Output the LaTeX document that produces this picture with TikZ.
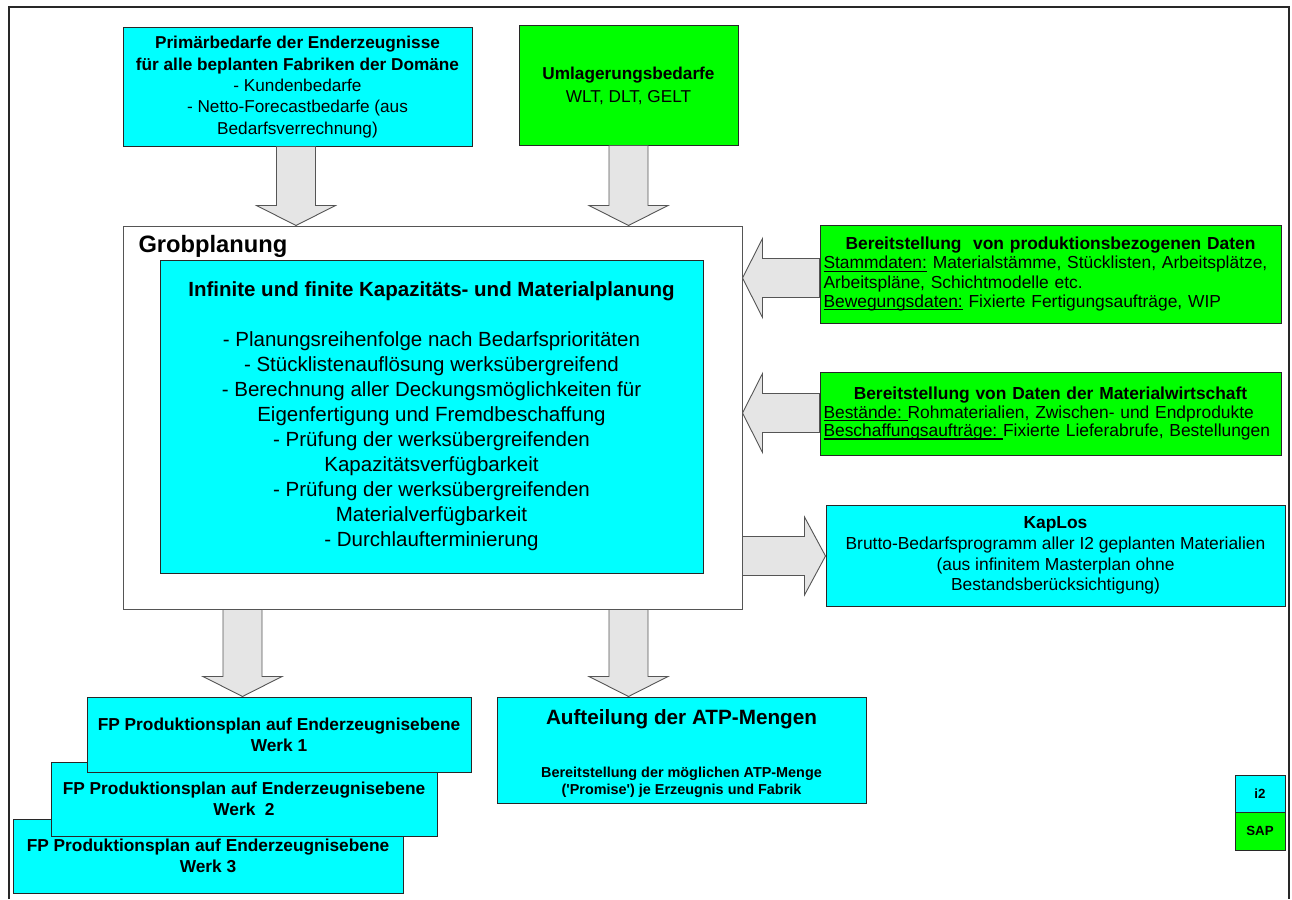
\documentclass[tikz,border=0pt]{standalone}
\usepackage{fontspec}
\setmainfont{Liberation Sans}
\usetikzlibrary{calc}

\definecolor{boxcyan}{RGB}{0,255,255}
\definecolor{boxgreen}{RGB}{0,255,0}
\definecolor{arrowgrey}{RGB}{229,229,229}
\definecolor{edgedark}{RGB}{40,40,40}
\definecolor{edgegrey}{RGB}{85,85,85}

\newcommand\fs[2]{\fontsize{#1}{#2}\selectfont}
% underline at a fixed depth below the baseline
\newcommand\undl[1]{\leavevmode\setbox0\hbox{#1}\rlap{\vrule height -1.9pt depth 3.0pt width \wd0}\box0\relax}

\tikzset{
  plainbox/.style={rectangle, inner sep=0pt, draw=edgedark, line width=1pt, align=center},
  cyanbox/.style={plainbox, fill=boxcyan},
  greenbox/.style={plainbox, fill=boxgreen},
  blockarrow/.style={draw=edgegrey, fill=arrowgrey, line width=0.9pt, line join=miter},
}

% vertical block arrow: from source's south to target's north, centred at x
\newcommand\blockdown[3]{%
  \draw[blockarrow] let \p1=(#1.south), \p2=(#2.north) in
    (#3pt-19.5pt,\y1) -- (#3pt+19.5pt,\y1) -- (#3pt+19.5pt,\y2+20pt)
    -- (#3pt+39.5pt,\y2+20pt) -- (#3pt,\y2) -- (#3pt-39.5pt,\y2+20pt)
    -- (#3pt-19.5pt,\y2+20pt) -- cycle;}
% horizontal block arrow pointing left: from source's west to target's east
\newcommand\blockleft[3]{%
  \draw[blockarrow] let \p1=(#1.west), \p2=(#2.east) in
    (\x1,-#3pt+19.5pt) -- (\x2+20pt,-#3pt+19.5pt) -- (\x2+20pt,-#3pt+39.5pt)
    -- (\x2,-#3pt) -- (\x2+20pt,-#3pt-39.5pt) -- (\x2+20pt,-#3pt-19.5pt)
    -- (\x1,-#3pt-19.5pt) -- cycle;}
% horizontal block arrow pointing right: from source's east to target's west
\newcommand\blockright[3]{%
  \draw[blockarrow] let \p1=(#1.east), \p2=(#2.west) in
    (\x1,-#3pt+19.5pt) -- (\x2-21pt,-#3pt+19.5pt) -- (\x2-21pt,-#3pt+39pt)
    -- (\x2,-#3pt) -- (\x2-21pt,-#3pt-39pt) -- (\x2-21pt,-#3pt-19.5pt)
    -- (\x1,-#3pt-19.5pt) -- cycle;}

\begin{document}
\begin{tikzpicture}[x=1pt, y=-1pt]
\useasboundingbox (0,0) rectangle (1292,899);

% outer frame, open at the bottom
\draw[line width=2pt, edgedark] (9,899) -- (9,7) -- (1289,7) -- (1289,899);

% inputs on top
\node[cyanbox, minimum width=349pt, minimum height=118pt, font=\fs{17.2}{21.3}]
  (prim) at (297.5,87)
  {\bfseries Primärbedarfe der Enderzeugnisse\\
   \bfseries für alle beplanten Fabriken der Domäne\\
   - Kundenbedarfe\\
   - Netto-Forecastbedarfe (aus\\
   Bedarfsverrechnung)};

\node[greenbox, minimum width=219pt, minimum height=119pt, font=\fs{17.2}{23}]
  (uml) at (628.5,85.5)
  {\bfseries Umlagerungsbedarfe\\ WLT, DLT, GELT};

% central planning block
\node[plainbox, draw=edgegrey, fill=white, minimum width=619pt, minimum height=383pt]
  (grob) at (432.5,417.5) {};
\node[anchor=base west, font=\fs{23.7}{28}\bfseries] (grobtitle) at (135,252) {Grobplanung};
\node[cyanbox, minimum width=543pt, minimum height=313pt, font=\fs{20.5}{25}]
  (inner) at (431.5,416.5)
  {\bfseries Infinite und finite Kapazitäts- und Materialplanung\\[25pt]
   - Planungsreihenfolge nach Bedarfsprioritäten\\
   - Stücklistenauflösung werksübergreifend\\
   - Berechnung aller Deckungsmöglichkeiten für\\
   Eigenfertigung und Fremdbeschaffung\\
   - Prüfung der werksübergreifenden\\
   Kapazitätsverfügbarkeit\\
   - Prüfung der werksübergreifenden\\
   Materialverfügbarkeit\\
   - Durchlaufterminierung};

% data supply on the right
\node[greenbox, minimum width=461pt, minimum height=98pt, text width=454pt, align=left,
      font=\fs{17.4}{19.2}]
  (prod) at (1050.5,274)
  {\makebox[\linewidth]{\bfseries Bereitstellung\ \ von produktionsbezogenen Daten}\\
   \undl{Stammdaten:} Materialstämme, Stücklisten, Arbeitsplätze,\\
   Arbeitspläne, Schichtmodelle etc.\\
   \undl{Bewegungsdaten:} Fixierte Fertigungsaufträge, WIP};

\node[greenbox, minimum width=461pt, minimum height=83pt, text width=454pt, align=left,
      font=\fs{17.4}{18.5}]
  (mat) at (1050.5,413.5)
  {\makebox[\linewidth]{\bfseries Bereitstellung von Daten der Materialwirtschaft}\\
   \undl{Bestände:\ }Rohmaterialien, Zwischen- und Endprodukte\\
   \undl{Beschaffungsaufträge:\ }Fixierte Lieferabrufe, Bestellungen};

\node[cyanbox, minimum width=459pt, minimum height=101pt, font=\fs{17.4}{20.7}]
  (kap) at (1055.5,555.5)
  {\bfseries KapLos\\
   Brutto-Bedarfsprogramm aller I2 geplanten Materialien\\
   (aus infinitem Masterplan ohne\\
   Bestandsberücksichtigung)};

% outputs at the bottom (stacked plant plans)
\node[cyanbox, minimum width=390pt, minimum height=74pt, font=\fs{17.3}{21}\bfseries]
  (fp3) at (208,856) {FP Produktionsplan auf Enderzeugnisebene\\ Werk 3};
\node[cyanbox, minimum width=386pt, minimum height=74pt, font=\fs{17.3}{21}\bfseries]
  (fp2) at (244,799) {FP Produktionsplan auf Enderzeugnisebene\\ Werk\ \ 2};
\node[cyanbox, minimum width=384pt, minimum height=75pt, font=\fs{17.3}{21}\bfseries]
  (fp1) at (279,734.5) {FP Produktionsplan auf Enderzeugnisebene\\ Werk 1};

\node[cyanbox, minimum width=369pt, minimum height=106pt] (atp) at (681.5,750) {};
\node[align=center, inner sep=0pt, font=\fs{14.4}{17}\bfseries] (atptext) at (681.5,754)
  {{\fs{20.7}{25}Aufteilung der ATP-Mengen}\\[36pt]
   Bereitstellung der möglichen ATP-Menge\\
   (\textquotesingle Promise\textquotesingle) je Erzeugnis und Fabrik};

% legend
\node[cyanbox, minimum width=50pt, minimum height=37pt, font=\fs{13.3}{16}\bfseries]
  (legi2) at (1260,793.5) {i2};
\node[greenbox, minimum width=50pt, minimum height=38pt, font=\fs{13.3}{16}\bfseries]
  (legsap) at (1260,831) {SAP};

% block arrows
\blockdown{prim}{grob}{296}
\blockdown{uml}{grob}{628.5}
\blockleft{prod}{grob}{278}
\blockleft{mat}{grob}{413}
\blockright{grob}{kap}{556}
\blockdown{grob}{fp1}{242.5}
\blockdown{grob}{atp}{628.5}

\end{tikzpicture}
\end{document}
